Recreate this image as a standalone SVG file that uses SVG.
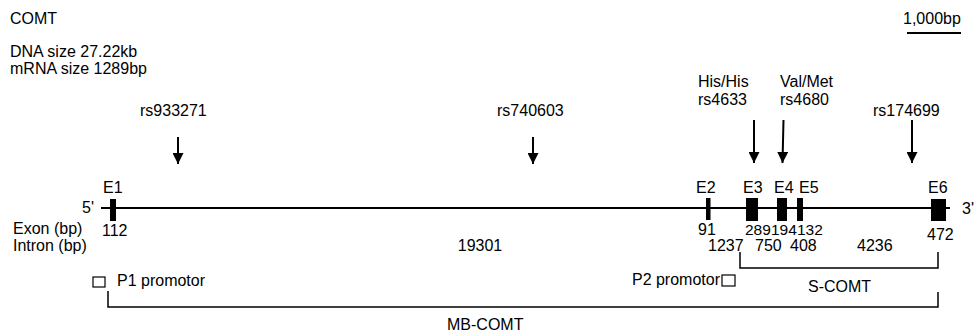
<svg xmlns="http://www.w3.org/2000/svg" width="975" height="334" viewBox="0 0 975 334">
<defs>
<style>
text{font-family:"Liberation Sans",Arial,Helvetica,sans-serif;font-size:16px;fill:#000}
.ln{stroke:#000;stroke-width:2;fill:none}
.ex{fill:#000}
.pr{fill:#fff;stroke:#000;stroke-width:1.2}
.br{stroke:#000;stroke-width:1.5;fill:none}
.sm{font-size:15.5px}
</style>
<marker id="ah" markerWidth="11" markerHeight="11" viewBox="0 0 11 11" refX="11" refY="5.5" orient="auto" markerUnits="userSpaceOnUse">
<path d="M0,0 L11,5.5 L0,11 Z" fill="#000"/>
</marker>
</defs>
<rect width="975" height="334" fill="#fff"/>

<g id="header">
<text x="10" y="24">COMT</text>
<text x="10" y="57">DNA size 27.22kb</text>
<text x="10" y="74">mRNA size 1289bp</text>
</g>

<g id="scalebar">
<text x="903" y="24">1,000bp</text>
<line x1="907" y1="33" x2="961" y2="33" class="ln"/>
</g>

<g id="gene">
<line x1="101" y1="208" x2="950" y2="208" class="ln"/>
<text x="82" y="213">5'</text>
<text x="962" y="214">3'</text>
<text x="13" y="234">Exon (bp)</text>
<text x="13" y="251">Intron (bp)</text>
</g>

<g id="E1"><rect x="110" y="199" width="6" height="22" class="ex"/><text x="103" y="193">E1</text><text x="102" y="236">112</text></g>
<g id="E2"><rect x="706" y="198" width="4.5" height="22" class="ex"/><text x="696" y="193">E2</text><text x="698" y="235">91</text></g>
<g id="E3"><rect x="746" y="198" width="12" height="23" class="ex"/><text x="743" y="193">E3</text><text x="745" y="235" class="sm">289</text></g>
<g id="E4"><rect x="777" y="198" width="10" height="23" class="ex"/><text x="774" y="193">E4</text><text x="771" y="235" class="sm">194</text></g>
<g id="E5"><rect x="797" y="198" width="6" height="23" class="ex"/><text x="799" y="193">E5</text><text x="797" y="235" class="sm">132</text></g>
<g id="E6"><rect x="931" y="199" width="15" height="22" class="ex"/><text x="928" y="193">E6</text><text x="927" y="240">472</text></g>

<g id="introns">
<text x="480" y="251" text-anchor="middle">19301</text>
<text x="708" y="251">1237</text>
<text x="755" y="251">750</text>
<text x="790" y="251">408</text>
<text x="857" y="251">4236</text>
</g>

<g id="snp-labels">
<text x="140" y="116">rs933271</text>
<text x="497" y="116">rs740603</text>
<text x="698" y="87">His/His</text>
<text x="698" y="105">rs4633</text>
<text x="780" y="87">Val/Met</text>
<text x="780" y="105">rs4680</text>
<text x="873" y="116">rs174699</text>
</g>

<g id="P1"><rect x="93" y="277" width="12" height="10" class="pr"/><text x="117" y="286">P1 promotor</text></g>
<g id="P2"><rect x="722" y="275" width="13" height="11" class="pr"/><text x="720" y="285" text-anchor="end">P2 promotor</text></g>

<g id="S-COMT"><text x="808" y="292">S-COMT</text></g>
<g id="MB-COMT"><text x="447" y="330">MB-COMT</text></g>

<g id="connectors">
<line x1="178" y1="137" x2="178" y2="164" class="ln" marker-end="url(#ah)"/>
<line x1="533" y1="137" x2="533" y2="164" class="ln" marker-end="url(#ah)"/>
<line x1="754" y1="120" x2="754" y2="163" class="ln" marker-end="url(#ah)"/>
<line x1="783.5" y1="120" x2="782.5" y2="163" class="ln" marker-end="url(#ah)"/>
<line x1="912" y1="120" x2="912" y2="163" class="ln" marker-end="url(#ah)"/>
<path d="M740,252 V268 H938 V252" class="br"/>
<path d="M108,291 V307 H938 V292" class="br"/>
</g>
</svg>
